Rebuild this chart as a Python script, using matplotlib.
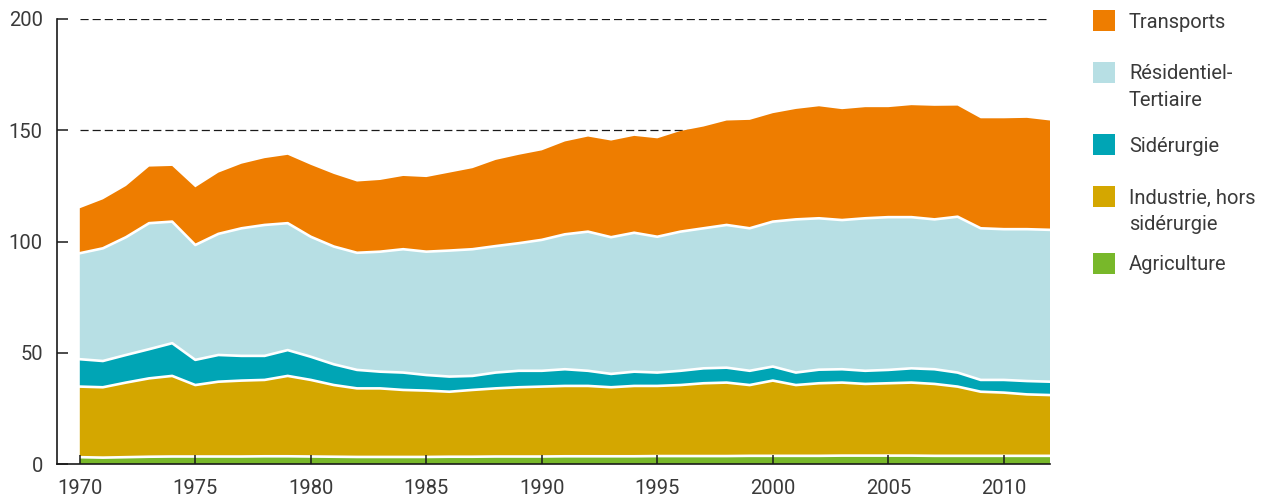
import numpy as np
import matplotlib
matplotlib.use("Agg")
import matplotlib.pyplot as plt
from matplotlib.patches import Rectangle

plt.rcParams['font.family'] = ['Roboto', 'DejaVu Sans']

years = list(range(1970, 2013))

agriculture = [3.2, 3.0, 3.2, 3.4, 3.5, 3.5, 3.5, 3.5, 3.6, 3.6,
               3.5, 3.4, 3.3, 3.3, 3.3, 3.3, 3.4, 3.4, 3.5, 3.5,
               3.5, 3.6, 3.6, 3.6, 3.6, 3.7, 3.7, 3.7, 3.7, 3.8,
               3.8, 3.8, 3.8, 3.9, 3.9, 3.9, 3.9, 3.8, 3.8, 3.8,
               3.8, 3.8, 3.8]

industrie = [31.7, 31.6, 33.5, 35.2, 36.2, 32.1, 33.6, 34.1, 34.3, 36.1,
             34.4, 32.2, 30.8, 30.8, 30.1, 29.8, 29.2, 30.0, 30.6, 31.1,
             31.4, 31.6, 31.6, 31.0, 31.6, 31.5, 31.9, 32.7, 33.0, 31.8,
             33.8, 31.8, 32.6, 32.8, 32.2, 32.5, 32.8, 32.3, 31.1, 28.8,
             28.4, 27.6, 27.3]

siderurgie = [12.3, 11.8, 12.4, 13.1, 14.7, 11.3, 12.0, 11.1, 10.8, 11.6,
              10.4, 9.3, 8.3, 7.5, 7.8, 7.0, 6.8, 6.3, 7.1, 7.4,
              7.1, 7.5, 6.8, 6.0, 6.4, 6.0, 6.4, 6.7, 6.7, 6.4,
              6.3, 5.6, 6.1, 6.0, 5.9, 6.0, 6.4, 6.6, 6.3, 5.3,
              5.7, 6.0, 6.0]

residentiel = [47.6, 50.6, 52.9, 56.6, 54.6, 51.6, 54.4, 57.3, 58.8, 57.0,
               53.9, 52.9, 52.6, 53.9, 55.4, 55.4, 56.6, 56.9, 56.8, 57.3,
               58.8, 60.6, 62.5, 61.4, 62.4, 61.0, 62.5, 62.9, 64.1, 64.0,
               65.1, 68.8, 68.0, 67.0, 68.5, 68.6, 67.9, 67.3, 70.0, 68.1,
               67.7, 68.2, 68.2]

transports = [20.2, 22.0, 23.0, 25.4, 25.0, 25.9, 27.5, 29.0, 30.0, 30.7,
              32.3, 32.6, 32.0, 32.2, 32.9, 33.5, 35.0, 36.4, 38.7, 39.7,
              40.2, 41.7, 42.7, 43.4, 43.5, 44.2, 45.2, 45.7, 46.9, 48.7,
              48.7, 49.6, 50.3, 49.8, 49.9, 49.4, 50.3, 51.0, 49.9, 49.4,
              49.8, 50.0, 49.1]

series_names = ["Agriculture", "Industrie, hors\nsidérurgie", "Sidérurgie",
                "Résidentiel-\nTertiaire", "Transports"]
series_colors = ["#78b82a", "#d4a700", "#00a5b5", "#b7dfe4", "#ee7d00"]
y_ticks = [0, 50, 100, 150, 200]
x_ticks = [1970, 1975, 1980, 1985, 1990, 1995, 2000, 2005, 2010]

text_color = "#3a3a3a"
W, H = 1272, 504

fig = plt.figure(figsize=(W / 100, H / 100), dpi=100)
ax = fig.add_axes([56.7 / W, 39.7 / H, 993.3 / W, 445.3 / H])

layers = [agriculture, industrie, siderurgie, residentiel, transports]
ax.stackplot(years, *layers, colors=series_colors, linewidth=0, zorder=1)

# white separators between the stacked layers
tops = np.cumsum(np.array(layers, dtype=float), axis=0)
for row in tops[:-1]:
    ax.plot(years, row, color="white", lw=1.9, zorder=2, solid_joinstyle="round")

# dashed reference lines behind the areas
for level in (150, 200):
    ax.plot([years[0], years[-1]], [level, level], color="#1a1a1a", lw=0.9,
            dashes=(6.5, 3.2), zorder=0.5)

ax.set_xlim(1969, 2012)
ax.set_ylim(0, 200)
ax.set_xticks(x_ticks)
ax.set_yticks(y_ticks)
ax.set_axisbelow(False)

for side in ("top", "right"):
    ax.spines[side].set_visible(False)
for side in ("left", "bottom"):
    ax.spines[side].set_linewidth(1.2)
    ax.spines[side].set_color("#1a1a1a")
    ax.spines[side].set_zorder(3)

ax.tick_params(axis="x", direction="in", length=6.8, width=1.1, color="#1a1a1a",
               labelsize=14.5, labelcolor=text_color, pad=10.5)
ax.tick_params(axis="y", direction="in", length=8, width=1.1, color="#1a1a1a",
               labelsize=14.5, labelcolor=text_color, pad=10)

# legend drawn in figure pixel positions, top entry first
legend_rows = [
    (4, [20.5]),
    (3, [72, 98]),
    (2, [144]),
    (1, [196, 222]),
    (0, [263]),
]
for idx, line_ys in legend_rows:
    cy = line_ys[0]
    fig.patches.append(Rectangle(((1093) / W, 1 - (cy + 10.5) / H), 22 / W, 21 / H,
                                 transform=fig.transFigure, facecolor=series_colors[idx],
                                 edgecolor="none"))
    for line, ly in zip(series_names[idx].split("\n"), line_ys):
        fig.text(1129 / W, 1 - ly / H, line, fontsize=14.5, color=text_color,
                 ha="left", va="center_baseline")

fig.savefig("out.png", dpi=100)
